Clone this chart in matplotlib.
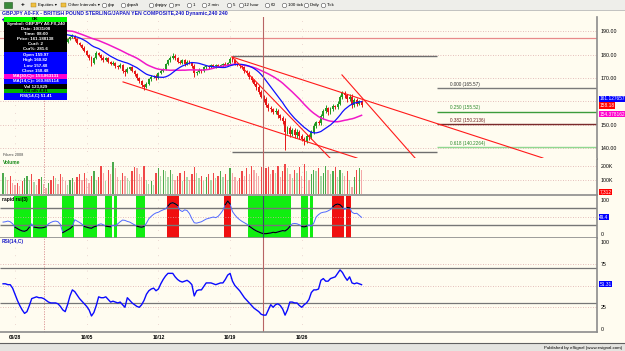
import numpy as np
import pandas as pd
import matplotlib
matplotlib.use('Agg')
from matplotlib import pyplot as plt
from matplotlib.patches import Rectangle

plt.rcParams['font.family'] = ['Liberation Sans', 'DejaVu Sans']

W, H = 625, 351
BG = '#fffcf0'

# ---- data (4-hour bars, GBPJPY) ----
closes = [
    195.0, 195.5, 195.0, 194.5, 193.0, 192.0, 190.5, 189.5, 189.0, 189.5,
    190.0, 191.0, 190.5, 191.0, 190.5, 190.0, 190.5, 189.5, 189.0, 189.5,
    189.0, 188.5, 189.0, 188.0, 187.0, 186.0, 185.5, 186.5, 187.5, 188.0,
    186.5, 185.0, 184.0, 183.0, 181.5, 180.0, 178.5, 176.5, 178.5, 180.5,
    180.0, 178.5, 177.5, 178.5, 177.0, 176.0, 176.5, 175.0, 174.5, 175.5,
    173.0, 172.5, 174.0, 174.5, 173.0, 171.5, 170.0, 168.5, 167.0, 166.0,
    167.5, 169.5, 170.5, 171.0, 170.0, 172.0, 173.0, 174.0, 176.0, 177.5,
    178.5, 179.5, 178.5, 177.0, 176.5, 177.5, 176.0, 177.0, 176.5, 175.0,
    172.0, 172.5, 173.5, 173.0, 174.5, 175.0, 174.5, 175.5, 175.0, 175.5,
    175.0, 175.5, 176.0, 175.5, 176.5, 178.0, 177.5, 176.0, 175.5, 175.0,
    174.5, 173.0, 172.0, 170.5, 169.0, 167.5, 166.0, 164.0, 162.0, 161.0,
    158.5, 157.0, 156.5, 155.5, 156.0, 154.0, 153.0, 151.5, 147.0, 148.5,
    146.0, 147.5, 145.5, 147.0, 145.0, 144.0, 143.0, 145.0, 144.5, 147.0,
    149.5, 151.0, 150.5, 153.5, 156.0, 157.0, 155.5, 156.5, 158.0, 157.5,
    159.0, 162.0, 163.5, 162.5, 161.0, 162.0, 158.5, 160.5, 159.0, 160.0, 158.2]

hi_wick = [
    0.5, 0.4, 0.6, 0.3, 0.5, 0.4, 0.7, 0.3, 0.5, 0.6,
    0.4, 0.5, 0.3, 0.6, 0.4, 0.5, 0.3, 0.7, 0.4, 0.5,
    0.3, 0.6, 0.4, 0.5, 0.3, 0.4, 0.6, 0.5, 0.4, 0.8,
    0.5, 0.6, 0.4, 0.7, 0.5, 0.6, 0.4, 0.8, 0.5, 0.9,
    0.6, 0.4, 0.7, 0.5, 0.6, 0.4, 0.8, 0.5, 0.6, 0.7,
    0.5, 0.9, 0.6, 0.4, 0.7, 0.5, 0.6, 0.4, 0.5, 0.6,
    0.8, 0.5, 0.7, 0.4, 0.6, 0.5, 0.7, 0.4, 0.6, 0.5,
    0.8, 1.0, 0.6, 0.5, 0.7, 0.4, 0.6, 0.5, 0.7, 0.4,
    0.9, 0.5, 0.6, 0.4, 0.7, 0.5, 0.4, 0.6, 0.5, 0.4,
    0.6, 0.5, 0.4, 0.7, 0.5, 1.0, 0.8, 0.5, 0.6, 0.4,
    0.7, 0.5, 0.6, 0.8, 0.5, 0.7, 0.6, 0.9, 0.7, 0.8,
    1.0, 0.7, 0.9, 0.6, 1.2, 0.8, 0.7, 0.9, 1.5, 1.0,
    0.8, 1.2, 0.9, 1.1, 0.8, 1.0, 0.7, 1.2, 0.9, 0.8,
    1.0, 0.7, 1.1, 0.9, 0.8, 1.2, 0.7, 0.9, 0.8, 0.6,
    1.0, 0.8, 1.1, 0.9, 0.7, 1.0, 1.2, 0.8, 0.9, 0.7, 0.6]

lo_wick = [
    0.4, 0.5, 0.3, 0.6, 0.4, 0.5, 0.3, 0.6, 0.8, 0.4,
    0.5, 0.3, 0.6, 0.4, 0.5, 0.3, 0.4, 0.6, 0.5, 0.3,
    0.5, 0.4, 0.6, 0.3, 0.5, 0.7, 0.6, 0.4, 0.3, 0.5,
    0.6, 0.4, 0.5, 0.7, 0.6, 0.8, 0.7, 1.5, 0.5, 0.4,
    0.6, 0.7, 0.5, 0.4, 0.8, 0.6, 0.5, 0.7, 0.6, 0.4,
    0.9, 1.6, 0.5, 0.4, 0.6, 0.7, 0.8, 0.6, 0.9, 1.0,
    0.5, 0.4, 0.6, 0.5, 0.7, 0.4, 0.5, 0.3, 0.6, 0.4,
    0.5, 0.6, 0.7, 0.5, 0.6, 0.4, 0.7, 0.5, 0.4, 0.6,
    1.6, 0.6, 0.5, 0.7, 0.4, 0.5, 0.6, 0.4, 0.5, 0.6,
    0.4, 0.5, 0.6, 0.4, 0.5, 0.6, 0.7, 0.6, 0.5, 0.7,
    0.6, 0.8, 0.7, 0.9, 0.8, 0.7, 1.0, 0.9, 0.8, 1.1,
    1.0, 1.2, 0.9, 1.1, 0.8, 1.0, 1.2, 1.3, 8.0, 1.2,
    1.5, 1.0, 1.4, 1.1, 1.3, 1.2, 1.6, 0.9, 1.2, 0.8,
    0.9, 1.0, 0.8, 0.7, 1.0, 0.9, 1.4, 0.8, 0.7, 0.9,
    0.8, 0.7, 0.9, 1.0, 1.3, 0.8, 1.5, 0.9, 1.1, 0.8, 0.7]

volume_k = [
    150, 120, 95, 130, 80, 60, 75, 55, 90, 110,
    130, 100, 140, 85, 60, 105, 120, 70, 45, 80,
    95, 130, 110, 70, 140, 120, 90, 60, 100, 115,
    85, 120, 140, 95, 150, 110, 80, 130, 160, 100,
    120, 200, 150, 90, 170, 140, 225, 180, 120, 100,
    150, 130, 110, 90, 160, 190, 180, 140, 120, 200,
    100, 70, 90, 60, 150, 180, 130, 170, 160, 120,
    170, 140, 100, 130, 150, 90, 160, 120, 100, 140,
    190, 150, 110, 130, 90, 120, 140, 100, 150, 110,
    130, 160, 120, 140, 100, 180, 150, 120, 90, 110,
    160, 130, 180, 140, 200, 170, 150, 130, 190, 160,
    180, 190, 140, 170, 150, 200, 120, 160, 210, 180,
    140, 110, 170, 150, 190, 130, 210, 160, 100, 140,
    170, 160, 180, 130, 150, 200, 170, 140, 160, 190,
    120, 170, 150, 130, 160, 100, 50, 120, 170, 180, 170]

rapid_rsi = [
    35, 36, 38, 36, 30, 20, 16, 12, 9, 8,
    11, 20, 30, 20, 19, 18, 18, 19, 21, 30,
    34, 37, 38, 36, 28, 4, 8, 12, 16, 22,
    42, 38, 34, 29, 22, 20, 18, 17, 21, 23,
    28, 30, 27, 23, 22, 21, 26, 23, 30, 36,
    41, 40, 37, 35, 31, 27, 23, 21, 20, 22,
    32, 45, 52, 58, 62, 64, 68, 71, 74, 82,
    90, 92, 89, 84, 70, 66, 71, 69, 60, 45,
    33, 32, 34, 36, 40, 44, 46, 48, 50, 48,
    52, 60, 70, 86, 97, 88, 66, 56, 48, 42,
    37, 33, 29, 23, 18, 13, 9, 6, 3, 1,
    1, 2, 3, 5, 4, 6, 8, 10, 9, 14,
    22, 30, 31, 30, 27, 22, 21, 23, 27, 23,
    32, 50, 57, 62, 64, 65, 68, 72, 80, 86,
    88, 86, 79, 72, 78, 77, 64, 60, 61, 55, 49]

rsi14 = [
    52, 52, 51, 51, 47, 40, 33, 27, 22, 18,
    20, 27, 35, 36, 37, 36, 36, 35, 33, 31,
    30, 30, 30, 29, 26, 22, 20, 28, 38, 45,
    43, 39, 35, 32, 29, 26, 22, 15, 19, 27,
    37, 36, 36, 37, 34, 31, 32, 31, 30, 31,
    28, 25, 36, 33, 30, 28, 26, 25, 28, 33,
    40, 44, 46, 47, 44, 46, 52, 57, 61, 64,
    64, 64, 60, 57, 55, 54, 55, 56, 54, 51,
    38, 44, 45, 45, 49, 53, 53, 53, 52, 51,
    52, 53, 53, 57, 62, 64, 55, 50, 47, 44,
    40, 36, 33, 30, 27, 24, 22, 20, 17, 16,
    16, 22, 28, 25, 28, 29, 27, 23, 16, 22,
    31, 31, 30, 30, 27, 25, 28, 30, 34, 42,
    45, 45, 46, 56, 58, 55, 55, 58, 59, 60,
    64, 68, 65, 60, 56, 60, 53, 52, 53, 52, 51]

date_ticks = [5, 35, 65, 95, 125]
date_labels = ['09/28', '10/05', '10/12', '10/19', '10/26']
price_ticks = [140, 150, 170, 180, 190]

# drawn studies / levels on the price pane
red_level = 187.3
box_levels = [179.2, 138.3]
box_span = (95.8, 181.6)
fib_levels = [165.57, 155.52, 150.2136, 140.2264]
fib_labels = ['0.000 (165.57)', '0.250 (155.52)', '0.382 (150.2136)', '0.618 (140.2264)']
fib_colors = ['#7a7a7a', '#3c9c3c', '#7a2a2a', '#90d890']
fib_text = ['#303030', '#2a8a2a', '#6a2020', '#2a8a2a']
trend_lines = [((50.2, 168.3), (148.1, 135.7)),
               ((95.8, 179.0), (225.9, 135.7)),
               ((95.8, 179.0), (136.8, 135.7)),
               ((141.8, 171.3), (172.4, 135.7))]
cursor_bar = 108.8
marker_bar = 17.1

last_tags = {'ma14': 161.127657, 'close': 158.18, 'ma30': 154.378162}

c = np.array(closes)
n = len(c)
x = np.arange(n)
o = np.r_[c[0], c[:-1]]
up = c >= o
hi = np.maximum(o, c) + np.array(hi_wick)
lo = np.minimum(o, c) - np.array(lo_wick)
ma14 = pd.Series(c).rolling(14, min_periods=1).mean()
ma30 = pd.Series(c).rolling(30, min_periods=1).mean()

XMIN, XMAX = -3.05 / 2.39, (597 - 3.05) / 2.39

fig = plt.figure(figsize=(W / 100, H / 100), dpi=100, facecolor=BG)


def panel(y0, y1):
    ax = fig.add_axes([0, 1 - y1 / H, 597 / W, (y1 - y0) / H])
    ax.set_facecolor(BG)
    ax.set_xlim(XMIN, XMAX)
    ax.spines['top'].set_visible(False)
    ax.spines['left'].set_visible(False)
    for s in ['bottom', 'right']:
        ax.spines[s].set_color('#8c8c8c')
        ax.spines[s].set_linewidth(1.2)
    ax.yaxis.tick_right()
    ax.tick_params(axis='y', length=0, pad=2.5, labelsize=3.8)
    ax.tick_params(axis='x', length=0, labelbottom=False)
    ax.set_xticks(date_ticks)
    for t in date_ticks:
        ax.axvline(t, color='#d8b4b4', lw=0.5, ls=(0, (1, 10)), zorder=0)
    ax.axvline(marker_bar, color='#d88c8c', lw=0.6, ls=(0, (1.5, 1.5)), zorder=1)
    return ax


def tag(ax, val, txt, fc):
    ax.text(1.004, val, txt, transform=ax.get_yaxis_transform(), fontsize=3.4,
            color='white', va='center', ha='left', clip_on=False,
            bbox=dict(boxstyle='square,pad=0.12', fc=fc, ec='none'))


# ---- price pane ----
ax_p = panel(17, 158.5)
ax_p.set_ylim(135.5, 196.1)
ax_p.set_yticks(price_ticks)
ax_p.set_yticklabels(['%.2f' % v for v in price_ticks])
ax_p.hlines(np.arange(140, 195, 10), XMIN, XMAX, color='#dcaaaa', lw=0.6,
            ls=(0, (1, 2)), zorder=0)
ax_p.axhline(red_level, color='#e88a8a', lw=0.9, zorder=1)
ax_p.hlines(box_levels, *box_span, color='#6e6e6e', lw=1.0, zorder=2)
ax_p.hlines(fib_levels, box_span[1], XMAX, colors=fib_colors, lw=1.0, zorder=2)
for lv, lb, tc in zip(fib_levels, fib_labels, fib_text):
    ax_p.text(187, lv + 0.7, lb, fontsize=3.3, color=tc, va='bottom')

cc = np.where(up, '#219a21', '#e61616')
ax_p.vlines(x, lo, hi, colors=cc, lw=0.7, zorder=3)
ax_p.bar(x, np.maximum(np.abs(c - o), 0.2), bottom=np.minimum(o, c),
         width=0.8, color=cc, lw=0, zorder=3)
ax_p.plot(x, ma30, color='#f018c8', lw=1.1, zorder=4)
ax_p.plot(x, ma14, color='#1010ff', lw=0.9, zorder=4)
for (x0, y0), (x1, y1) in trend_lines:
    ax_p.plot([x0, x1], [y0, y1], color='#ff1a1a', lw=0.8, zorder=5)
ax_p.axvline(cursor_bar, color='#b86464', lw=0.8, zorder=6)
tag(ax_p, last_tags['ma14'], '%.6f' % last_tags['ma14'], '#0000ff')
tag(ax_p, last_tags['close'], '%.2f' % last_tags['close'], '#ff0000')
tag(ax_p, last_tags['ma30'], '%.6f' % last_tags['ma30'], '#ff00cc')

# ---- volume pane ----
ax_v = panel(158.5, 195.5)
ax_v.set_ylim(-10.7, 250)
ax_v.set_yticks([100, 200])
ax_v.set_yticklabels(['100K', '200K'])
ax_v.hlines([100, 200], XMIN, XMAX, color='#dcaaaa', lw=0.6, ls=(0, (1, 2)), zorder=0)
vol = np.array(volume_k)
rising = np.r_[True, vol[1:] > vol[:-1]]
vcol = np.where(up, np.where(rising, '#4caa4c', '#a8d8a8'),
                np.where(rising, '#f04848', '#f4a8a8'))
ax_v.bar(x, vol, width=0.55, color=vcol, lw=0)
ax_v.axvline(cursor_bar, color='#b86464', lw=0.8)
tag(ax_v, 14, '7,312', '#ff0000')

# ---- rapid rsi pane ----
ax_r = panel(195.5, 237.5)
ax_r.set_ylim(-10.3, 113.2)
ax_r.set_yticks([0, 100])
rr = np.array(rapid_rsi, dtype=float)
zone = np.where(rr < 25, 1, np.where(rr > 75, 2, 0))
i = 0
while i < n:
    if zone[i]:
        j = i
        while j + 1 < n and zone[j + 1] == zone[i]:
            j += 1
        ax_r.axvspan(i - 0.5, j + 0.5, color='#10ee10' if zone[i] == 1 else '#f01010',
                     lw=0, zorder=1)
        i = j + 1
    else:
        i += 1
ax_r.axhline(50, color='#dcaaaa', lw=0.6, ls=(0, (1, 2)), zorder=2)
ax_r.hlines([25, 75], XMIN, XMAX, color='#767676', lw=1.0, zorder=2)
ax_r.plot(x, rr, color='#5068ff', lw=0.7, zorder=3)
ax_r.plot(x, np.where(zone > 0, rr, np.nan), color='black', lw=0.8, zorder=4)
ax_r.axvline(cursor_bar, color='#3c4a6a', lw=0.8, zorder=5)
tag(ax_r, 49.4, '49.4', '#0000ff')

# ---- rsi pane ----
ax_s = panel(237.5, 332)
ax_s.set_ylim(-3.4, 105.2)
ax_s.set_yticks([0, 25, 75, 100])
ax_s.hlines([25, 50, 75], XMIN, XMAX, color='#dcaaaa', lw=0.6, ls=(0, (1, 2)), zorder=0)
ax_s.hlines([30, 70], XMIN, XMAX, color='#767676', lw=0.9, zorder=1)
ax_s.plot(x, rsi14, color='#0a0aff', lw=1.0, zorder=3)
ax_s.axvline(cursor_bar, color='#b86464', lw=0.8)
ax_s.tick_params(axis='x', labelbottom=True, pad=2.2, labelsize=3.5)
ax_s.set_xticklabels(date_labels, fontweight='bold')
tag(ax_s, 51.31, '51.31', '#0000ff')

# ---- overlay: toolbar, title, info box, status bar ----
ov = fig.add_axes([0, 0, 1, 1], zorder=10)
ov.set_xlim(0, W)
ov.set_ylim(H, 0)
ov.axis('off')
ov.patch.set_alpha(0)

ov.add_patch(Rectangle((0, 0), W, 10, fc='#eeeeea', ec='none'))
ov.plot([0, W], [10, 10], color='#b8b8b8', lw=0.6)
ov.add_patch(Rectangle((4, 2), 8, 6, fc='#3a8a3a', ec='#225522', lw=0.4))
ov.text(23, 5, '+', fontsize=4.5, ha='center', va='center', fontweight='bold')
for fx, lab in [(31, 'Equities \u25be'), (61, 'Other Intervals \u25be')]:
    ov.add_patch(Rectangle((fx, 2.8), 5, 4, fc='#f0c040', ec='#a07818', lw=0.3))
    ov.text(fx + 7, 5, lab, fontsize=3.2, va='center')
for cx, lab in [(104, 'gbp'), (123, 'gbpaft'), (151, 'gbpjpy'), (171, 'ym'), (189, '1'),
                (204, '2 min'), (229, '5'), (241, '12 hour'), (267, '60'),
                (284, '100 tick'), (306, 'Daily'), (323, 'Tick')]:
    ov.plot(cx, 5, 'o', ms=3.2, mfc='white', mec='#505050', mew=0.4)
    ov.text(cx + 3.5, 5, lab, fontsize=3.2, va='center')

ov.text(2, 13.6, 'GBPJPY A0-FX - BRITISH POUND STERLING/JAPAN YEN COMPOSITE,240 '
        'Dynamic,240 240', fontsize=3.7, color='#1818c8', fontweight='bold', va='center')

rows = [
    (17, 21.5, '#00ff00', 'OK', 'black'),
    (21.5, 26.5, 'black', 'Symbol: GBPJPY A0-FX,240', 'white'),
    (26.5, 31.5, 'black', 'Date: 10/31/08', 'white'),
    (31.5, 36.5, 'black', 'Time: 08:00', 'white'),
    (36.5, 41.5, 'black', 'Price: 161.188138', 'white'),
    (41.5, 46.5, 'black', 'Cur#: 2', 'white'),
    (46.5, 52, 'black', 'Cur%: 281.6', 'white'),
    (52, 57.5, '#0000ff', 'Open 159.97', 'white'),
    (57.5, 63, '#0000ff', 'High 160.82', 'white'),
    (63, 68.5, '#0000ff', 'Low 157.48', 'white'),
    (68.5, 74, '#0000ff', 'Close 158.48', 'white'),
    (74, 79, '#ff00cc', 'MA(30,C)= 153.863131', 'white'),
    (79, 83.5, '#0000ff', 'MA(14,C)= 160.865114', 'white'),
    (83.5, 88.5, 'black', 'Vol 123,829', 'white'),
    (88.5, 93, '#00b400', 'RSI nlh 4.81', 'black'),
    (93, 99.5, '#0000ff', 'RSI(14,C) 51.41', 'white'),
]
for y0, y1, fc, txt, tc in rows:
    ov.add_patch(Rectangle((4, y0), 63, y1 - y0, fc=fc, ec='none'))
    ov.text(35.5, (y0 + y1) / 2, txt, fontsize=3.2, color=tc, ha='center',
            va='center', fontweight='bold')

ov.text(3, 155, 'Fibarc 2008', fontsize=2.8, color='#404040', va='center')
ov.text(3, 162.5, 'Volume', fontsize=3.5, color='#1a8a1a', fontweight='bold', va='center')
ov.text(2, 199.5, 'rapid rsi(3)', fontsize=3.5, color='black', fontweight='bold', va='center')
ov.text(2, 241.5, 'RSI(14,C)', fontsize=3.5, color='#1818c8', fontweight='bold', va='center')

ov.plot([0, W], [343, 343], color='#606060', lw=0.8)
ov.add_patch(Rectangle((0, 343.5), W, 8, fc='#e4e4e0', ec='none'))
ov.text(622, 347.5, 'Published by eSignal (www.esignal.com)', fontsize=3.2,
        ha='right', va='center')

fig.savefig('out.png', dpi=100, facecolor=BG)
